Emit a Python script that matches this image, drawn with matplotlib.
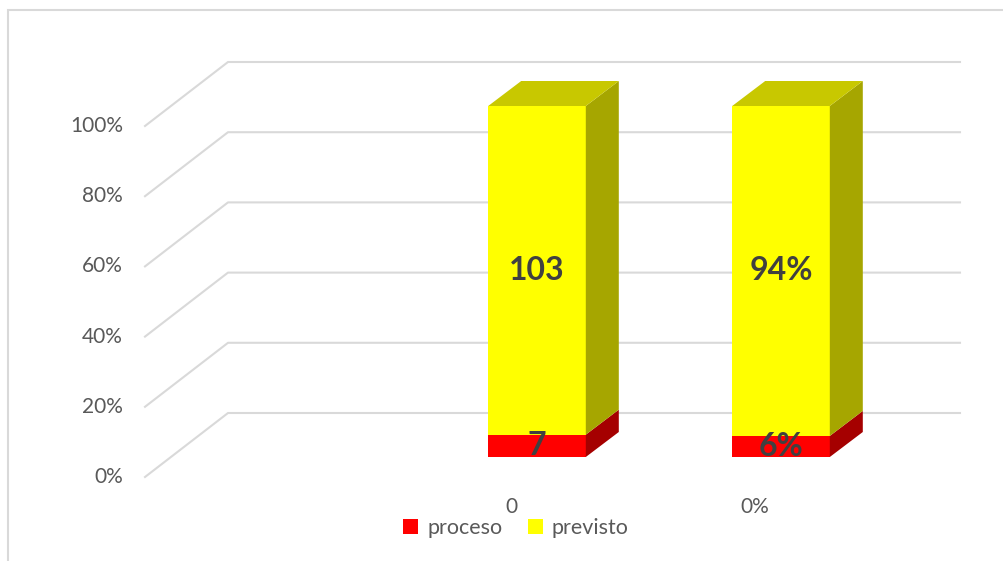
import matplotlib
matplotlib.use("Agg")
import matplotlib.pyplot as plt
from matplotlib.patches import Polygon, Rectangle
import numpy as np

# data (100% stacked, labels show the raw cell text)
categories = ["", "0", "0%"]
proceso = [0, 7, 6]
previsto = [0, 103, 94]
proceso_labels = ["", "7", "6%"]
previsto_labels = ["", "103", "94%"]
series_names = ["proceso", "previsto"]
y_ticks = [0, 20, 40, 60, 80, 100]

FRONT = ["#FF0000", "#FFFF00"]
SIDE = ["#A50000", "#A6A600"]
TOP = ["#C80000", "#C8C800"]
GRID = "#D9D9D9"
TEXT = "#595959"
FONT = "Lato"

W, H = 1004, 561
fig = plt.figure(figsize=(W / 100, H / 100), dpi=100)

# axes = front plane of the bars
ax = fig.add_axes([171 / W, (H - 457) / H, 732 / W, 351 / H])
ax.set_xlim(-0.5, len(categories) - 0.5)
ax.set_ylim(0, 100)
ax.axis("off")

# border of the chart area
fig.patches.append(Rectangle((8 / W, -0.1), 1.2, (H - 10) / H + 0.1,
                             transform=fig.transFigure, fill=False,
                             edgecolor=GRID, linewidth=1.5))

# depth offsets in pixels (display coords, y up)
to_front = np.array([-26, -20])
to_back = np.array([57, 44])
bar_depth = np.array([33, 25])


def disp(x, y):
    return ax.transData.transform((x, y))


# walls / gridlines
for v in y_ticks:
    p0 = disp(-0.5, v)
    p1 = disp(len(categories) - 0.5, v)
    pts = [p0 + to_front, p0 + to_back, p1 + to_back]
    fig.lines.append(plt.Line2D([p[0] for p in pts], [p[1] for p in pts],
                                transform=None, color=GRID, linewidth=1.5,
                                zorder=1))
    lx, ly = p0 + to_front
    fig.text((lx - 22) / W, ly / H, "{}%".format(v), ha="right",
             va="center", fontsize=15, color=TEXT, family=FONT)

# category labels at the front edge of the floor
for i, cat in enumerate(categories):
    cx, cy = disp(i, 0) + to_front
    fig.text(cx / W, (cy - 30) / H, cat, ha="center", va="center",
             fontsize=15, color=TEXT, family=FONT)

# stacked 3D bars
half = 0.2
totals = [a + b for a, b in zip(proceso, previsto)]
for i in range(len(categories)):
    if totals[i] == 0:
        continue
    shares = [proceso[i] / totals[i] * 100, previsto[i] / totals[i] * 100]
    labels = [proceso_labels[i], previsto_labels[i]]
    bottom = 0
    for s in range(2):
        top = bottom + shares[s]
        bl, br = disp(i - half, bottom), disp(i + half, bottom)
        tl, tr = disp(i - half, top), disp(i + half, top)
        front = Polygon([bl, br, tr, tl], closed=True, transform=None,
                        facecolor=FRONT[s], edgecolor="none", zorder=3)
        side = Polygon([br, br + bar_depth, tr + bar_depth, tr], closed=True,
                       transform=None, facecolor=SIDE[s], edgecolor="none",
                       zorder=3)
        fig.patches.extend([front, side])
        if s == 1:
            cap = Polygon([tl, tr, tr + bar_depth, tl + bar_depth],
                          closed=True, transform=None, facecolor=TOP[s],
                          edgecolor="none", zorder=3)
            fig.patches.append(cap)
        mx, my = disp(i, (bottom + top) / 2)
        fig.text(mx / W, my / H, labels[s], ha="center", va="center",
                 fontsize=23, fontweight="bold", color="#404040",
                 family=FONT, zorder=5)
        bottom = top

# legend
handles = [Rectangle((0, 0), 1, 1, facecolor=c, edgecolor="none")
           for c in FRONT]
fig.legend(handles, series_names, loc="center", ncol=2,
           bbox_to_anchor=(516 / W, (H - 528) / H), frameon=False,
           handlelength=0.7, handleheight=0.7, handletextpad=0.4,
           columnspacing=1.2, prop={"family": FONT, "size": 15.5},
           labelcolor=TEXT)

fig.savefig("out.png", dpi=100)
